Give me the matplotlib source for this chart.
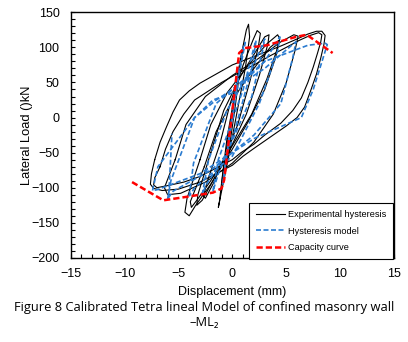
import matplotlib
matplotlib.use('Agg')
import matplotlib.pyplot as plt
from matplotlib.ticker import MultipleLocator

# Experimental hysteresis cycles (displacement mm, load kN)
exp_cycles = [
    [(-0.3, -20), (0.2, 30), (0.6, 70), (0.9, 95), (1.0, 100), (0.8, 80), (0.3, 20), (-0.3, -45),
     (-0.8, -85), (-1.0, -95), (-0.8, -70), (-0.3, -20)],
    [(-0.5, -30), (0.3, 40), (0.9, 95), (1.3, 125), (1.5, 133), (1.6, 115), (1.2, 70), (0.4, 5),
     (-0.4, -60), (-1.0, -105), (-1.3, -128), (-1.2, -120), (-0.9, -80), (-0.5, -30)],
    [(-1.2, -40), (-0.2, 20), (1.0, 75), (1.9, 110), (2.3, 124), (2.6, 120), (2.4, 100), (1.6, 50),
     (0.5, -10), (-0.8, -60), (-1.8, -95), (-2.5, -115), (-2.7, -112), (-2.3, -90), (-1.2, -40)],
    [(-2.0, -50), (-0.8, 10), (0.8, 60), (2.2, 95), (3.0, 115), (3.4, 118), (3.3, 105), (2.5, 60),
     (1.3, 5), (-0.2, -45), (-1.8, -90), (-2.8, -118), (-3.3, -125), (-3.2, -110), (-2.0, -50)],
    [(-3.0, -60), (-2.0, -10), (-0.5, 35), (1.5, 75), (3.2, 105), (4.2, 118), (4.4, 112), (4.0, 85),
     (3.0, 40), (1.5, -5), (0.0, -45), (-2.0, -95), (-3.4, -125), (-4.0, -140), (-4.4, -135),
     (-4.2, -115), (-3.0, -60)],
    [(-2.6, -70), (-1.5, -20), (0.0, 25), (2.0, 70), (3.5, 100), (4.3, 110), (4.1, 95), (3.2, 55),
     (1.8, 5), (0.0, -40), (-2.0, -90), (-3.3, -118), (-3.8, -128), (-3.9, -120), (-2.6, -70)],
    [(-5.3, -60), (-4.3, -10), (-2.5, 30), (0.0, 60), (2.5, 85), (4.5, 108), (5.7, 118), (6.1, 116),
     (5.8, 95), (5.0, 50), (3.8, 5), (2.0, -35), (0.0, -65), (-2.5, -92), (-4.8, -108), (-6.0, -110),
     (-6.3, -100), (-5.3, -60)],
    [(-7.2, -60), (-6.7, -35), (-6.1, -13), (-5.5, 8), (-4.9, 25), (-4.0, 38), (-3.0, 49),
     (-1.5, 62), (0.0, 75), (1.5, 84), (3.0, 93), (4.5, 102), (6.0, 112), (7.0, 119), (7.8, 123),
     (8.3, 123), (8.6, 117), (8.5, 105), (8.2, 85), (7.8, 62), (7.3, 40), (6.7, 15), (6.0, 0),
     (5.0, -12), (3.5, -28), (2.0, -44), (1.0, -55), (0.0, -68), (-1.5, -80), (-3.0, -92),
     (-5.0, -102), (-6.5, -104), (-7.3, -101), (-7.6, -95), (-7.5, -80), (-7.2, -60)],
    [(-6.7, -70), (-6.2, -45), (-5.5, -20), (-4.5, 5), (-3.5, 25), (-2.2, 38), (-1.0, 50),
     (0.5, 63), (2.0, 75), (3.5, 88), (5.0, 100), (6.2, 110), (7.2, 117), (8.0, 121), (8.3, 118),
     (8.2, 108), (7.9, 92), (7.5, 72), (7.0, 50), (6.4, 28), (5.6, 10), (4.5, -8), (3.0, -25),
     (2.0, -38), (0.8, -50), (0.0, -60), (-1.5, -72), (-3.0, -84), (-4.5, -92), (-6.0, -97),
     (-7.0, -100), (-7.3, -96), (-7.2, -86), (-6.7, -70)],
]

# Tetra-linear hysteresis model cycles
model_cycles = [
    [(-0.9, -95), (0.5, 60), (1.0, 100), (1.2, 107), (0.6, 60), (-0.3, -30), (-0.9, -95)],
    [(-1.8, -105), (-1.3, -60), (1.0, 40), (2.0, 100), (2.2, 110), (1.8, 70), (0.2, -20),
     (-1.3, -80), (-1.8, -105)],
    [(-2.8, -110), (-2.2, -60), (-0.5, 10), (2.0, 75), (3.0, 112), (2.8, 95), (1.8, 30),
     (-0.5, -50), (-2.4, -95), (-2.8, -110)],
    [(-4.0, -112), (-3.6, -65), (-1.5, 20), (3.0, 80), (4.4, 115), (4.2, 95), (2.5, 20),
     (0.0, -55), (-3.5, -100), (-4.0, -112)],
    [(-6.0, -116), (-5.7, -90), (-3.5, 0), (-1.5, 25), (3.0, 70), (5.5, 103), (5.9, 108),
     (5.6, 85), (4.5, 20), (2.0, -25), (-2.0, -75), (-5.5, -105), (-6.0, -116)],
    [(-7.4, -104), (-6.9, -70), (-3.5, 0), (-1.8, 25), (0.0, 35), (3.0, 80), (7.0, 103), (8.6, 106),
     (8.8, 104), (7.5, 40), (6.4, 0), (2.0, -30), (-3.0, -80), (-7.0, -103), (-7.4, -104)],
    [(-5.9, -110), (-5.6, -23)],
]

# Capacity curve
cap_x = [-9.3, -6.4, -4.25, -1.8, -1.0, -0.76, 0.63, 1.15, 3.2, 5.9, 6.9, 9.3]
cap_y = [-92, -118, -113, -107, -101, -89, 92, 99, 103, 115, 118, 92]

sans = ['Liberation Sans', 'DejaVu Sans']

fig = plt.figure(figsize=(4.08, 3.42), dpi=100)
ax = fig.add_axes([0.173, 0.246, 0.793, 0.718])

for i, cyc in enumerate(exp_cycles):
    xs, ys = zip(*cyc)
    ax.plot(xs, ys, color='black', lw=0.8,
            label='Experimental hysteresis' if i == 0 else None)
for i, cyc in enumerate(model_cycles):
    xs, ys = zip(*cyc)
    ax.plot(xs, ys, color='#2a7bd0', lw=1.2, ls=(0, (3, 1.5)),
            label='Hysteresis model' if i == 0 else None)
ax.plot(cap_x, cap_y, color='red', lw=1.8, ls=(0, (2.5, 1.2)), label='Capacity curve')

ax.set_xlim(-15, 15)
ax.set_ylim(-200, 150)
ax.xaxis.set_major_locator(MultipleLocator(5))
ax.xaxis.set_minor_locator(MultipleLocator(1))
ax.yaxis.set_major_locator(MultipleLocator(50))
ax.yaxis.set_minor_locator(MultipleLocator(10))
ax.tick_params(which='both', direction='in', length=3, width=0.8, top=False, right=False)
ax.tick_params(axis='x', labelsize=9, pad=7)
ax.tick_params(axis='y', labelsize=9, pad=8)
for lab in ax.get_xticklabels() + ax.get_yticklabels():
    lab.set_family(sans)
for s in ax.spines.values():
    s.set_linewidth(1.0)

ax.set_xlabel('Displacement (mm)', fontsize=9, family=sans)
ax.set_ylabel('Lateral Load ()kN', fontsize=9.3, family=sans)
ax.xaxis.set_label_coords(0.5, -0.113)
ax.yaxis.set_label_coords(-0.115, 0.5)

leg = ax.legend(loc='lower right', bbox_to_anchor=(0.995, -0.004), borderaxespad=0,
                frameon=True, fancybox=False, edgecolor='black', framealpha=1,
                handlelength=3.2, borderpad=0.7, labelspacing=0.85, handletextpad=0.3,
                prop={'family': sans, 'size': 6.6})
leg.get_frame().set_linewidth(0.8)

fig.text(0.5, 1 - 307.5 / 342, 'Figure 8 Calibrated Tetra lineal Model of confined masonry wall',
         ha='center', va='center', fontsize=9.25, family=['Open Sans', 'DejaVu Sans'])
fig.text(0.5, 1 - 322.5 / 342, '–ML\u2082', ha='center', va='center', fontsize=9.25,
         family=['Open Sans', 'DejaVu Sans'])

fig.savefig('out.png', dpi=100)
